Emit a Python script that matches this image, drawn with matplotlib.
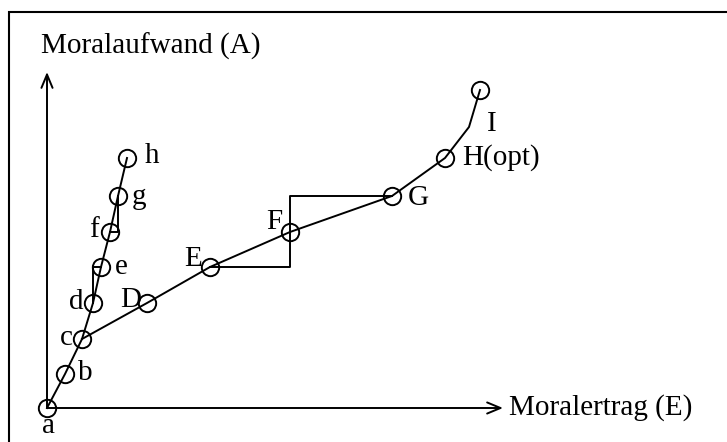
import matplotlib

matplotlib.use("Agg")

import matplotlib.pyplot as plt
from matplotlib.patches import Rectangle

plt.rcParams["font.family"] = ["Liberation Serif", "DejaVu Serif"]

# Moralaufwand (A) levels shared by both chains
levels = [0, 3.4, 6.9, 10.5, 14.1, 17.6, 21.2, 25.0]

# steep chain a..h
small_names = ["a", "b", "c", "d", "e", "f", "g", "h"]
small_ertrag = [0, 1.8, 3.5, 4.6, 5.4, 6.3, 7.1, 8.0]
small_aufwand = levels

# flat chain from c over D..I
big_names = ["c", "D", "E", "F", "G", "H(opt)", "", "I"]
big_ertrag = [3.5, 10.0, 16.3, 24.3, 34.5, 39.8, 42.2, 43.3]
big_aufwand = [6.9, 10.5, 14.1, 17.6, 21.2, 25.0, 28.1, 31.8]

# staircase steps d->e, f->g and E->F->G
step_de_x = [4.6, 4.6, 5.4]
step_de_y = [10.5, 14.1, 14.1]
step_fg_x = [6.3, 7.1, 7.1]
step_fg_y = [17.6, 17.6, 21.2]
step_EG_x = [16.3, 24.3, 24.3, 34.5]
step_EG_y = [14.1, 14.1, 21.2, 21.2]

axis_x_end = 45.6
axis_y_end = 33.6

# label offsets in pixels
small_offsets = [(2, -18), (20, 1), (-16, 1), (-17, 1), (20, 0), (-16, 2), (21, -1), (25, 2)]
big_offsets = {"D": (-16, 3), "E": (-17, 8), "F": (-16, 10), "G": (26, -2), "I": (12, -34)}

fig = plt.figure(figsize=(7.27, 4.42), dpi=100)
ax = fig.add_axes([0, 0, 1, 1])
ax.set_xlim(-4.7, 68.0)
ax.set_ylim(-3.4, 40.8)
ax.axis("off")

fig.patches.append(
    Rectangle((9 / 727, -0.1), 1.2, 1 - 12 / 442 + 0.1, transform=fig.transFigure,
              fill=False, edgecolor="black", linewidth=1.5)
)

lw = 1.4
arrow = dict(arrowstyle="->,head_width=0.25,head_length=0.6", color="black", linewidth=lw,
             mutation_scale=16, shrinkA=0, shrinkB=0)
ax.annotate("", xy=(axis_x_end, 0), xytext=(0, 0), arrowprops=arrow)
ax.annotate("", xy=(0, axis_y_end), xytext=(0, 0), arrowprops=arrow)
ax.text(axis_x_end + 0.6, 0, "Moralertrag (E)", fontsize=21, ha="left", va="center")
ax.text(-0.6, axis_y_end + 2.6, "Moralaufwand (A)", fontsize=21, ha="left", va="center")

ax.plot(small_ertrag, small_aufwand, color="black", linewidth=lw)
ax.plot(big_ertrag, big_aufwand, color="black", linewidth=lw)
for sx, sy in [(step_de_x, step_de_y), (step_fg_x, step_fg_y), (step_EG_x, step_EG_y)]:
    ax.plot(sx, sy, color="black", linewidth=lw)

marker = dict(linestyle="none", marker="o", markersize=12.5, markerfacecolor="none",
              markeredgecolor="black", markeredgewidth=1.4)
ax.plot(small_ertrag, small_aufwand, **marker)
ax.plot([x for x, n in zip(big_ertrag, big_names) if n and n != "c"],
        [y for y, n in zip(big_aufwand, big_names) if n and n != "c"], **marker)

for name, x, y, off in zip(small_names, small_ertrag, small_aufwand, small_offsets):
    ax.annotate(name, (x, y), xytext=off, textcoords="offset pixels",
                fontsize=21, ha="center", va="center")
for name, x, y in zip(big_names, big_ertrag, big_aufwand):
    if name in big_offsets:
        ax.annotate(name, (x, y), xytext=big_offsets[name], textcoords="offset pixels",
                    fontsize=21, ha="center", va="center")
    elif name == "H(opt)":
        ax.annotate(name, (x, y), xytext=(17, 0), textcoords="offset pixels",
                    fontsize=21, ha="left", va="center")

fig.savefig("out.png", dpi=100)
